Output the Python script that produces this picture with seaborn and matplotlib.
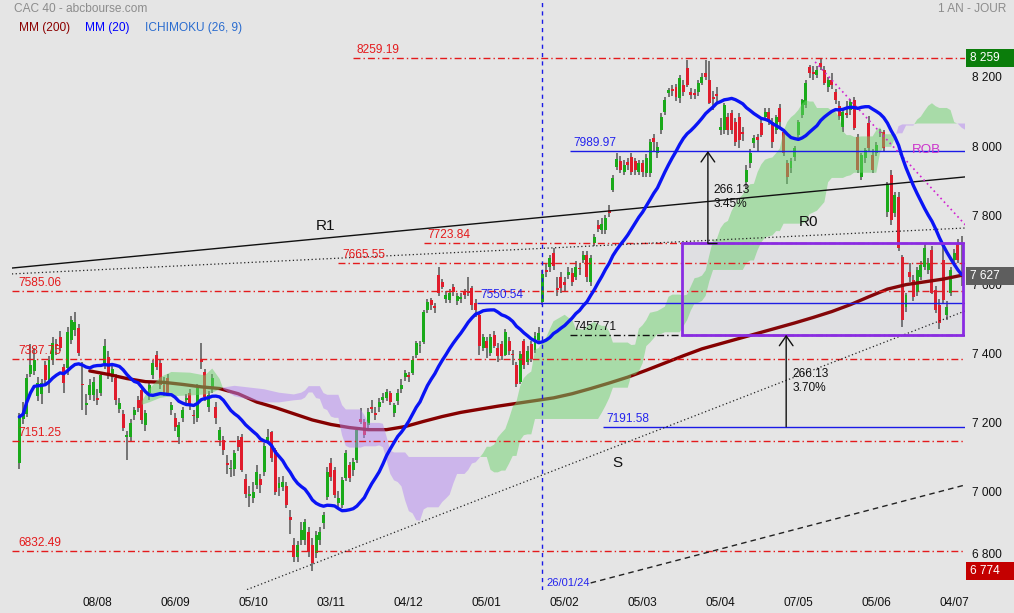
import numpy as np
import pandas as pd
import matplotlib
matplotlib.use("Agg")
import matplotlib.pyplot as plt
import matplotlib.transforms as mtransforms
from matplotlib.patches import Rectangle
import seaborn as sns

# ---- daily candles (10/07/2023 -> 08/07/2024) ----
opens = [
    7086, 7215, 7228, 7344, 7352, 7280, 7285, 7370, 7318, 7385, 7430, 7451, 7364, 7362, 7443, 7471,  # jul
    7477, 7315, 7255, 7283, 7283, 7275, 7290, 7376, 7393, 7335, 7332, 7243, 7228, 7163, 7162, 7225,
    7269, 7298, 7196, 7289, 7341, 7399, 7376,  # aug
    7312, 7333, 7240, 7217, 7162, 7217, 7268, 7289, 7226, 7217, 7385, 7350, 7248, 7304, 7248, 7153,
    7153, 7085, 7068, 7069, 7153,  # sep
    7162, 7040, 6990, 6985, 7023, 7040, 7060, 7150, 7176, 7124, 7015, 7017, 7020, 6930, 6849, 6814,
    6863, 6863, 6886, 6850, 6825, 6863,  # oct
    6912, 6988, 7086, 7066, 6971, 6965, 7043, 7080, 7066, 7095, 7214, 7205, 7196, 7250, 7231, 7248,
    7270, 7275, 7289, 7231, 7265, 7300,  # nov
    7335, 7340, 7347, 7399, 7425, 7437, 7530, 7559, 7540, 7631, 7610, 7561, 7559, 7596, 7556, 7560,
    7582, 7585, 7593,  # dec
    7550, 7515, 7419, 7440, 7405, 7457, 7420, 7430, 7400, 7440, 7400, 7370, 7320, 7440, 7380, 7430,
    7414, 7443, 7553, 7645, 7654, 7694,  # jan
    7593, 7625, 7610, 7631, 7637, 7625, 7648, 7674, 7689, 7611, 7724, 7775, 7760, 7761, 7819, 7877,
    7944, 7960, 7930, 7958, 7973,  # feb
    7960, 7930, 7955, 7925, 7926, 8028, 7984, 8050, 8103, 8157, 8170, 8175, 8143, 8180, 8230, 8160,
    8158, 8161, 8187, 8216,  # mar
    8196, 8145, 8155, 8050, 8050, 8089, 8100, 8074, 8089, 8045, 7900, 7955, 8013, 8030, 8071, 8089,
    8103, 8074, 8050, 8114, 8045,  # apr
    7955, 7940, 7973, 8036, 8094, 8123, 8233, 8220, 8210, 8245, 8225, 8175, 8195, 8160, 8120, 8060,
    8100, 8110, 8137, 8030, 7915, 7970,  # may
    8071, 7978, 7984, 8045, 8045, 7813, 7920, 7810, 7857, 7683, 7538, 7640, 7617, 7582, 7625, 7654,
    7645, 7703, 7587, 7544,  # jun
    7674, 7515, 7579, 7674, 7723, 7640,  # jul
]
highs = [
    7230, 7262, 7345, 7430, 7420, 7335, 7330, 7382, 7395, 7450, 7445, 7470, 7372, 7480, 7512, 7523,
    7490, 7379, 7285, 7330, 7335, 7300, 7350, 7445, 7410, 7370, 7345, 7275, 7240, 7180, 7215, 7250,
    7280, 7305, 7240, 7320, 7385, 7410, 7385,
    7335, 7345, 7262, 7230, 7205, 7250, 7285, 7300, 7240, 7315, 7434, 7360, 7295, 7345, 7262, 7190,
    7165, 7110, 7095, 7125, 7165,
    7170, 7055, 7020, 7030, 7080, 7055, 7145, 7185, 7180, 7130, 7045, 7050, 7030, 6950, 6870, 6860,
    6915, 6925, 6900, 6870, 6890, 6900,
    6945, 7075, 7100, 7075, 7005, 7045, 7125, 7090, 7100, 7190, 7245, 7215, 7245, 7268, 7250, 7275,
    7290, 7300, 7295, 7260, 7300, 7330,
    7355, 7350, 7395, 7440, 7440, 7530, 7560, 7565, 7550, 7654, 7620, 7585, 7590, 7605, 7580, 7580,
    7590, 7625, 7600,
    7560, 7520, 7460, 7450, 7460, 7470, 7435, 7440, 7475, 7450, 7415, 7380, 7410, 7445, 7425, 7440,
    7465, 7480, 7645, 7665, 7690, 7710,
    7625, 7640, 7625, 7655, 7650, 7670, 7665, 7700, 7700, 7690, 7750, 7790, 7795, 7805, 7835, 7920,
    7985, 7975, 7965, 7970, 7985,
    7970, 7965, 7965, 7980, 8025, 8040, 8015, 8100, 8145, 8172, 8180, 8185, 8210, 8195, 8253, 8172,
    8170, 8195, 8215, 8254,
    8250, 8165, 8175, 8085, 8130, 8100, 8110, 8085, 8100, 8060, 7950, 7995, 8035, 8040, 8085, 8115,
    8115, 8085, 8095, 8125, 8055,
    7965, 7970, 8005, 8080, 8140, 8195, 8240, 8235, 8235, 8259.19, 8235, 8205, 8215, 8170, 8135, 8110,
    8135, 8140, 8145, 8040, 7985, 8000,
    8090, 7995, 8015, 8055, 8050, 7900, 7935, 7870, 7870, 7690, 7580, 7665, 7630, 7655, 7670, 7720,
    7680, 7715, 7600, 7560,
    7720, 7555, 7655, 7705, 7735, 7745,
]
lows = [
    7070, 7200, 7220, 7335, 7340, 7265, 7258, 7310, 7290, 7370, 7400, 7410, 7290, 7340, 7430, 7455,
    7395, 7240, 7225, 7270, 7265, 7255, 7280, 7360, 7330, 7320, 7255, 7230, 7180, 7095, 7150, 7210,
    7235, 7200, 7180, 7270, 7330, 7355, 7300,
    7280, 7280, 7225, 7180, 7140, 7205, 7255, 7240, 7200, 7205, 7360, 7265, 7235, 7290, 7200, 7135,
    7110, 7055, 7045, 7050, 7120,
    7060, 6985, 6960, 6970, 7010, 7000, 7050, 7140, 7090, 6995, 6990, 7005, 6955, 6880, 6800, 6800,
    6850, 6850, 6815, 6773.76, 6810, 6850,
    6895, 6980, 7035, 6985, 6960, 6955, 7035, 7030, 7050, 7085, 7200, 7160, 7185, 7230, 7210, 7235,
    7260, 7265, 7255, 7220, 7255, 7290,
    7325, 7320, 7340, 7390, 7405, 7430, 7520, 7530, 7520, 7570, 7590, 7550, 7550, 7570, 7545, 7550,
    7560, 7570, 7530,
    7510, 7400, 7410, 7390, 7395, 7420, 7380, 7385, 7395, 7400, 7370, 7306, 7315, 7360, 7370, 7380,
    7405, 7430, 7545, 7625, 7640, 7645,
    7570, 7580, 7585, 7620, 7600, 7615, 7630, 7665, 7610, 7600, 7715, 7755, 7750, 7750, 7800, 7870,
    7935, 7925, 7920, 7935, 7920,
    7920, 7920, 7915, 7915, 7915, 7990, 7970, 8040, 8095, 8145, 8150, 8135, 8130, 8150, 8175, 8140,
    8140, 8150, 8180, 8195,
    8125, 8110, 8130, 8035, 8040, 8035, 8040, 8005, 8000, 8020, 7880, 7940, 8000, 7990, 8030, 8080,
    8065, 8000, 8040, 8060, 7975,
    7895, 7925, 7960, 8025, 8085, 8115, 8200, 8195, 8200, 8225, 8180, 8160, 8170, 8125, 8080, 8045,
    8085, 8095, 8050, 7925, 7905, 7955,
    7990, 7925, 7975, 8030, 7990, 7800, 7775, 7800, 7700, 7480, 7525, 7610, 7555, 7570, 7615, 7645,
    7635, 7575, 7520, 7475,
    7550, 7500, 7570, 7665, 7665, 7600,
]
closes = [
    7220, 7235, 7332, 7370, 7385, 7318, 7318, 7327, 7385, 7434, 7425, 7419, 7318, 7466, 7500, 7494,
    7405, 7312, 7260, 7312, 7321, 7270, 7340, 7425, 7345, 7360, 7269, 7260, 7188, 7165, 7202, 7240,
    7246, 7211, 7231, 7312, 7376, 7365, 7312,
    7292, 7289, 7254, 7191, 7196, 7240, 7275, 7254, 7222, 7304, 7379, 7278, 7283, 7333, 7217, 7182,
    7124, 7080, 7072, 7115, 7133,
    7066, 6996, 6998, 7002, 7060, 7023, 7136, 7162, 7101, 7002, 7028, 7030, 6965, 6921, 6814, 6849,
    6892, 6915, 6828, 6797, 6879, 6886,
    6935, 7060, 7046, 6995, 6985, 7037, 7115, 7043, 7090, 7182, 7205, 7167, 7234, 7243, 7225, 7263,
    7278, 7292, 7263, 7254, 7290, 7311,
    7347, 7335, 7385, 7434, 7425, 7524, 7553, 7543, 7535, 7579, 7596, 7573, 7579, 7582, 7570, 7568,
    7573, 7578, 7543,
    7530, 7424, 7450, 7420, 7450, 7426, 7396, 7396, 7465, 7411, 7398, 7316, 7401, 7371, 7411, 7388,
    7455, 7464, 7634, 7640, 7680, 7656,
    7588, 7592, 7603, 7640, 7612, 7655, 7647, 7689, 7625, 7680, 7741, 7765, 7778, 7796, 7810, 7912,
    7966, 7935, 7950, 7950, 7929,
    7934, 7955, 7930, 7970, 8016, 8016, 8003, 8089, 8137, 8166, 8164, 8146, 8201, 8161, 8181, 8152,
    8152, 8187, 8204, 8205,
    8129, 8140, 8150, 8059, 8123, 8050, 8051, 8016, 8022, 8040, 7935, 7984, 8028, 8022, 8036, 8103,
    8074, 8016, 8088, 8074, 7984,
    7915, 7960, 7998, 8074, 8137, 8187, 8216, 8212, 8225, 8233, 8187, 8196, 8180, 8137, 8092, 8102,
    8095, 8132, 8056, 7935, 7978, 7993,
    7999, 7935, 8007, 8041, 7999, 7892, 7790, 7862, 7709, 7500, 7573, 7625, 7567, 7645, 7660, 7709,
    7666, 7579, 7530, 7492,
    7558, 7538, 7645, 7694, 7674, 7627.3,
]
market_holidays = ['2023-12-25', '2023-12-26', '2024-01-01', '2024-03-29', '2024-04-01', '2024-05-01']

# MM(200) every 5 sessions from the 20th session
mm200_values = [7353, 7343, 7331, 7322, 7320, 7314, 7307, 7302, 7287, 7263, 7247, 7229,
                7211, 7198, 7189, 7183, 7183, 7192, 7207, 7221, 7233, 7242, 7251, 7259,
                7267, 7275, 7287, 7302, 7318, 7335, 7355, 7376, 7397, 7417, 7432, 7447,
                7462, 7477, 7492, 7508, 7525, 7545, 7568, 7590, 7603, 7611, 7619, 7630]

# ichimoku cloud before the history is long enough to compute it
cloud_early_days = [33, 35, 38, 41, 46, 50, 52, 54, 55, 58, 62, 66, 70, 74, 76]
cloud_early_a = [7265, 7300, 7335, 7350, 7348, 7340, 7360, 7330, 7300, 7280, 7270, 7262, 7262, 7268, 7270]
cloud_early_b = [7255, 7262, 7275, 7280, 7282, 7285, 7290, 7300, 7305, 7310, 7305, 7300, 7290, 7285, 7290]

# drawn levels
red_levels = [8259.19, 7723.84, 7665.55, 7585.06, 7387.75, 7151.25, 6832.49]
blue_levels = [7989.97, 7550.54, 7191.58]
black_levels = [7457.71]
projection = 266.13
projection_pct = ['3.45%', '3.70%']
marker_date = '2024-01-26'
tick_dates = ['2023-08-08', '2023-09-06', '2023-10-05', '2023-11-03', '2023-12-04', '2024-01-05',
              '2024-02-05', '2024-03-05', '2024-04-05', '2024-05-07', '2024-06-05', '2024-07-04']
price_ticks = [6800, 7000, 7200, 7400, 7600, 7800, 8000, 8200]

# trend lines as (session, price) end points
trend_r1 = [(-2, 7651), (255, 7915)]
trend_r0 = [(-2, 7634), (255, 7767)]
trend_s = [(59.5, 6712), (255, 7527)]
trend_s2 = [(154, 6739), (255, 7023)]
trend_rob = [(214.5, 8248), (255, 7776)]

# ---------------------------------------------------------------
dates = pd.bdate_range('2023-07-10', '2024-07-08')
dates = dates[~dates.isin(pd.to_datetime(market_holidays))]
df = pd.DataFrame({'open': opens, 'high': highs, 'low': lows, 'close': closes}, index=dates)
n = len(df)
days = np.arange(n)

sns.set_style("white")
plt.rcParams['font.family'] = ['Liberation Sans', 'DejaVu Sans']

BG = '#e5e5e5'
GREEN = '#1aaa1a'
RED = '#e01c2c'
fig = plt.figure(figsize=(10.14, 6.13), dpi=100, facecolor=BG)
ax = fig.add_axes([12 / 1014, 23 / 613, 953 / 1014, 590 / 613])
ax.set_facecolor(BG)
for sp in ax.spines.values():
    sp.set_visible(False)

# candles
o = df['open'].values
c = df['close'].values
up = c >= o
body = np.maximum(np.abs(c - o), 4)
ax.vlines(days, df['low'], df['high'], color='#555555', lw=1.1, zorder=2)
ax.bar(days[up], body[up], bottom=o[up], width=0.8, color=GREEN, lw=0, zorder=3)
ax.bar(days[~up], body[~up], bottom=c[~up], width=0.8, color=RED, lw=0, zorder=3)

# MM(200)
mm200_days = list(range(19, n, 5))
sns.lineplot(x=mm200_days, y=mm200_values, ax=ax, color='#850000', lw=2.4, zorder=4)

# ichimoku (26, 9) cloud, displaced 26 sessions ahead
hi = df['high'].reset_index(drop=True)
lo = df['low'].reset_index(drop=True)
tenkan = (hi.rolling(9).max() + lo.rolling(9).min()) / 2
kijun = (hi.rolling(26).max() + lo.rolling(26).min()) / 2
span_a = (tenkan + kijun) / 2
span_b = (hi.rolling(52).max() + lo.rolling(52).min()) / 2
cloud_x = days + 26
keep = (cloud_x > cloud_early_days[-1]) & span_b.notna().values
cx = np.concatenate([cloud_early_days, cloud_x[keep]])
ca = np.concatenate([cloud_early_a, span_a.values[keep]])
cb = np.concatenate([cloud_early_b, span_b.values[keep]])
ax.fill_between(cx, ca, cb, where=ca >= cb, interpolate=True, color='#6cd26c', alpha=0.5, lw=0, zorder=5)
ax.fill_between(cx, ca, cb, where=ca < cb, interpolate=True, color='#b486f2', alpha=0.5, lw=0, zorder=5)

# levels
x_left, x_right = -1.97, 254.9
level_start = {8259.19: 90, 7723.84: 109, 7665.55: 86, 7989.97: 148.4, 7550.54: 123.4,
               7191.58: 157.3, 7457.71: 148.4}
dashdot = (0, (5, 2.2, 1, 2.2))
for vals, col, ls, tcol in [(red_levels, '#e41a1c', dashdot, '#e41a1c'),
                            (blue_levels, '#1a1ae6', '-', '#2424ee'),
                            (black_levels, '#111111', dashdot, '#111111')]:
    for v in vals:
        x0 = level_start.get(v, x_left)
        ax.hlines(v, x0, x_right, color=col, lw=1, linestyles=[ls], zorder=6)
        tx = x0 + 1 if v in level_start else -0.3
        ax.text(tx, v + 6, f'{v:.2f}', color=tcol, fontsize=8.6, ha='left', va='bottom', zorder=9)

# trend lines
for pts, col, ls, lw in [(trend_r1, '#111111', '-', 1.0), (trend_r0, '#222222', (0, (1, 2)), 0.9),
                         (trend_s, '#222222', (0, (1, 2)), 0.9), (trend_s2, '#222222', (0, (4, 3)), 1.0),
                         (trend_rob, '#d020d0', (0, (1, 2)), 1.2)]:
    (xa, ya), (xb, yb) = pts
    ax.plot([xa, xb], [ya, yb], color=col, ls=ls, lw=lw, zorder=6)
ax.text(82.4, 7773, 'R1', fontsize=11, ha='center', va='center', color='#111111', zorder=9)
ax.text(212.6, 7784, 'R0', fontsize=11, ha='center', va='center', color='#111111', zorder=9)
ax.text(161.1, 7086, 'S', fontsize=11, ha='center', va='center', color='#111111', zorder=9)
ax.text(244.4, 7992, 'ROB', fontsize=9.6, ha='center', va='center', color='#cc33cc', zorder=9)

# MM(20)
mm20 = df['close'].rolling(20, min_periods=1).mean().values
sns.lineplot(x=days, y=mm20, ax=ax, color='#0a14f5', lw=2.4, zorder=7)

# projection box and arrows
top, bottom = red_levels[1], black_levels[0]
ax.add_patch(Rectangle((178.6, bottom), 254.4 - 178.6, top - bottom, facecolor=(0.5, 0.5, 0.7, 0.05),
                       edgecolor='#8a2be2', lw=2, zorder=8))
for xa, y0, pct in [(185.6, top, projection_pct[0]), (206.7, bottom - projection, projection_pct[1])]:
    ax.annotate('', xy=(xa, y0 + projection), xytext=(xa, y0),
                arrowprops=dict(arrowstyle='->,head_length=0.5,head_width=0.35', color='#111111',
                                lw=1, shrinkA=0, shrinkB=0, mutation_scale=14), zorder=9)
    ax.text(xa + 1.6, y0 + projection / 2, f'{projection:.2f}\n{pct}', fontsize=8.6, ha='left',
            va='center', color='#111111', linespacing=1.25, zorder=9)
ax.hlines(top, 185.4, 188.0, color='#111111', lw=1, zorder=9)

# 26/01/24 marker
mpos = dates.get_loc(pd.Timestamp(marker_date))
ax.axvline(mpos, color='#1a1ae6', lw=1, ls=(0, (3, 3)), zorder=6)
ax.text(mpos + 1, 6740, pd.Timestamp(marker_date).strftime('%d/%m/%y'), color='#2424ee',
        fontsize=8, ha='left', va='center', zorder=9)

ax.set_xlim(x_left, x_right)
ax.set_ylim(6718.6, 8427.3)
ax.set_xlabel('')
ax.set_ylabel('')
ax.set_yticks([])
tpos = [dates.get_loc(pd.Timestamp(d)) for d in tick_dates]
ax.set_xticks(tpos)
ax.set_xticklabels([pd.Timestamp(d).strftime('%d/%m') for d in tick_dates], fontsize=8.6)
ax.tick_params(axis='x', length=0, pad=5, colors='#111111')

# right price scale (the last-close tag sits over its neighbouring tick, as on the original)
trans = mtransforms.blended_transform_factory(fig.transFigure, ax.transData)
tags = [(max(highs), '#0b7d0b'), (closes[-1], '#5e5e5e'), (min(lows), '#c40000')]
for v in price_ticks:
    yv = v
    for tv, _ in tags:
        if 0 < v - tv < 46:
            yv = tv + 46
    ax.text(972 / 1014, yv, f'{v:,}'.replace(',', ' '), transform=trans, fontsize=8.6,
            ha='left', va='center', color='#111111', clip_on=False, zorder=10)
for tv, col in tags:
    ax.add_patch(Rectangle((966 / 1014, tv - 26), 48 / 1014, 52, transform=trans, facecolor=col,
                           lw=0, clip_on=False, zorder=11))
    ax.text(970 / 1014, tv, f'{int(round(tv)):,}'.replace(',', ' '), transform=trans, fontsize=8.6,
            ha='left', va='center', color='white', clip_on=False, zorder=12)

# header
fig.text(14 / 1014, 1 - 9 / 613, 'CAC 40 - abcbourse.com', fontsize=8.6, color='#8c8c8c', va='center')
fig.text(1006 / 1014, 1 - 9 / 613, '1 AN - JOUR', fontsize=8.6, color='#8c8c8c', va='center', ha='right')
for xp, label, col in [(19, 'MM (200)', '#8b0000'), (85, 'MM (20)', '#0000ff'), (145, 'ICHIMOKU (26, 9)', '#2a6ccf')]:
    fig.text(xp / 1014, 1 - 28 / 613, label, fontsize=8.6, color=col, va='center')

fig.savefig('out.png', dpi=100, facecolor=BG)
